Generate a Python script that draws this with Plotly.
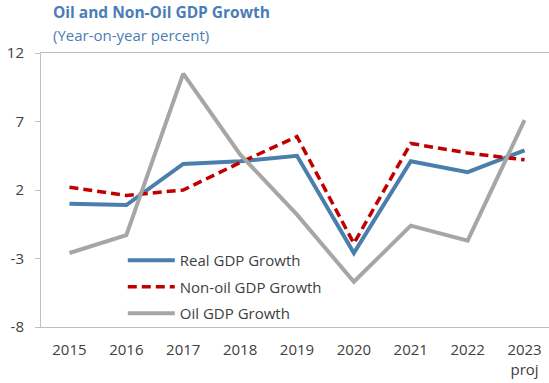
import plotly.graph_objects as go

# Categories and series (year-on-year percent)
years = ["2015", "2016", "2017", "2018", "2019", "2020", "2021", "2022", "2023"]
year_labels = ["2015", "2016", "2017", "2018", "2019", "2020", "2021", "2022", "2023<br>proj"]
real_gdp = [1.0, 0.9, 3.9, 4.1, 4.5, -2.6, 4.1, 3.3, 4.9]
non_oil_gdp = [2.2, 1.6, 2.0, 4.0, 5.9, -1.9, 5.4, 4.7, 4.2]
oil_gdp = [-2.6, -1.3, 10.5, 4.6, 0.2, -4.7, -0.6, -1.7, 7.1]
y_ticks = [-8, -3, 2, 7, 12]

FONT = "Segoe UI, Open Sans, sans-serif"
TITLE_BLUE = "#4a7db5"
TEXT = "#404040"
AXIS = "#bfbfbf"

x = list(range(len(years)))
x_range = [-0.5, 8.43]

fig = go.Figure()
series = [
    ("Real GDP Growth", real_gdp, dict(color="#4a7ead", width=4)),
    ("Non-oil GDP Growth", non_oil_gdp, dict(color="#c00000", width=3.5, dash="9px,5px")),
    ("Oil GDP Growth", oil_gdp, dict(color="#a6a6a6", width=4)),
]
for name, vals, line in series:
    fig.add_trace(go.Scatter(
        x=x, y=vals, mode="lines", name=name, line=line,
        legendgroup=name,
    ))

fig.update_layout(
    width=549, height=383,
    margin=dict(l=41, r=0, t=53, b=56),
    paper_bgcolor="white", plot_bgcolor="white",
    font=dict(family=FONT, size=15, color=TEXT),
    showlegend=True,
    legend=dict(
        x=0.161, y=0.303, xanchor="left", yanchor="top",
        bgcolor="rgba(0,0,0,0)", font=dict(size=15, color=TEXT),
        itemwidth=47, tracegroupgap=4,
    ),
    xaxis=dict(
        range=x_range, tickmode="array", tickvals=x, ticktext=year_labels,
        showline=True, linecolor=AXIS, linewidth=1, mirror=True,
        ticks="", showgrid=False, zeroline=False,
        tickfont=dict(size=15, color=TEXT), ticklabelstandoff=9,
    ),
    xaxis2=dict(
        overlaying="x", anchor="free", position=(0 - y_ticks[0]) / (y_ticks[-1] - y_ticks[0]),
        range=x_range, tickmode="array", tickvals=[i + 0.5 for i in x[:-1]],
        ticks="inside", ticklen=5, tickcolor=AXIS, tickwidth=1,
        showline=True, linecolor=AXIS, linewidth=1,
        showticklabels=False, showgrid=False, zeroline=False,
    ),
    yaxis=dict(
        range=[y_ticks[0], y_ticks[-1]], tickmode="array", tickvals=y_ticks,
        ticktext=[str(v) for v in y_ticks],
        showline=True, linecolor=AXIS, linewidth=1, mirror=True,
        ticks="outside", ticklen=5, tickcolor=AXIS,
        showgrid=False, zeroline=False,
        tickfont=dict(size=15, color=TEXT), ticklabelstandoff=8,
    ),
    annotations=[
        dict(text="<b>Oil and Non-Oil GDP Growth</b>", xref="paper", yref="paper",
             x=(51 - 41) / 508, y=1, xanchor="left", yanchor="bottom", yshift=28,
             showarrow=False, font=dict(size=15.5, color=TITLE_BLUE, family=FONT)),
        dict(text="(Year-on-year percent)", xref="paper", yref="paper",
             x=(51 - 41) / 508, y=1, xanchor="left", yanchor="bottom", yshift=6,
             showarrow=False, font=dict(size=15, color=TITLE_BLUE, family=FONT)),
    ],
)

fig.write_html("out.html")
